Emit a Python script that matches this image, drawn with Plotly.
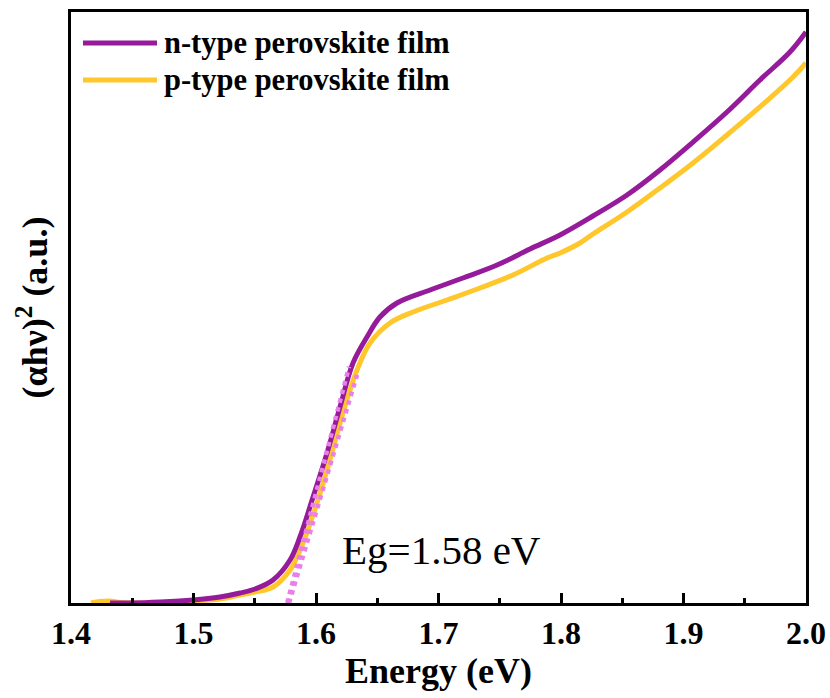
import plotly.graph_objects as go

# Tauc plot of the two perovskite films
energy_n = [1.4318, 1.4490, 1.4727, 1.4996, 1.5216, 1.5380, 1.5502, 1.5649, 1.5788,
            1.5869, 1.5976, 1.6090, 1.6196, 1.6302, 1.6416, 1.6522, 1.6661, 1.6931,
            1.7200, 1.7478, 1.7747, 1.7992, 1.8261, 1.8539, 1.8808, 1.9078, 1.9355,
            1.9624, 1.9869, 2.0000]
tauc_n = [0.000, 0.000, 0.0017, 0.0051, 0.0102, 0.0169, 0.0237, 0.0389, 0.0728,
          0.1117, 0.1794, 0.2538, 0.3316, 0.4061, 0.4501, 0.4839, 0.5076, 0.5296,
          0.5499, 0.5719, 0.5990, 0.6227, 0.6548, 0.6904, 0.7327, 0.7800, 0.8308,
          0.8849, 0.9323, 0.9662]

energy_p = [1.4163, 1.4237, 1.4318, 1.4400, 1.4522, 1.4727, 1.4996, 1.5216, 1.5380,
            1.5502, 1.5649, 1.5788, 1.5894, 1.6008, 1.6114, 1.6220, 1.6335, 1.6441,
            1.6604, 1.6792, 1.7069, 1.7339, 1.7608, 1.7886, 1.7992, 1.8155, 1.8261,
            1.8539, 1.8808, 1.9078, 1.9355, 1.9624, 1.9894, 2.0000]
tauc_p = [0.000, 0.0025, 0.0034, 0.0008, 0.000, 0.000, 0.0034, 0.0068, 0.0135,
          0.0186, 0.0271, 0.0558, 0.1015, 0.1692, 0.2420, 0.3215, 0.3942, 0.4399,
          0.4738, 0.4924, 0.5127, 0.5330, 0.5550, 0.5838, 0.5922, 0.6091, 0.6244,
          0.6616, 0.7022, 0.7445, 0.7919, 0.8393, 0.8900, 0.9137]

# linear extrapolations of the absorption edge
fit_n_x = [1.5765, 1.6270]
fit_n_y = [0.0, 0.400]
fit_p_x = [1.5780, 1.6335]
fit_p_y = [0.0, 0.386]

names = ["n-type perovskite film", "p-type perovskite film"]
purple = "#951B9B"
yellow = "#FFC72C"
violet = "#E97FE9"
font_family = "Liberation Serif, Times New Roman, DejaVu Serif, serif"

fig = go.Figure()
fig.add_trace(go.Scatter(x=energy_p, y=tauc_p, mode="lines", name=names[1],
                         line=dict(color=yellow, width=5, shape="spline", smoothing=1.0),
                         showlegend=False))
fig.add_trace(go.Scatter(x=energy_n, y=tauc_n, mode="lines", name=names[0],
                         line=dict(color=purple, width=5, shape="spline", smoothing=1.0),
                         showlegend=False))
fig.add_trace(go.Scatter(x=fit_n_x, y=fit_n_y, mode="lines",
                         line=dict(color=violet, width=4.5, dash="dot"), showlegend=False))
fig.add_trace(go.Scatter(x=fit_p_x, y=fit_p_y, mode="lines",
                         line=dict(color=violet, width=4.5, dash="dot"), showlegend=False))

# legend drawn as line samples plus labels
legend_rows = [(0.9475, purple, names[0]), (0.885, yellow, names[1])]
for yrow, col, label in legend_rows:
    fig.add_shape(type="line", xref="paper", yref="paper",
                  x0=0.0163, x1=0.117, y0=yrow, y1=yrow,
                  line=dict(color=col, width=5))
    fig.add_annotation(xref="paper", yref="paper", x=0.124, y=yrow,
                       text=f"<b>{label}</b>", showarrow=False,
                       xanchor="left", yanchor="middle",
                       font=dict(family=font_family, size=30.5, color="black"))

fig.add_annotation(x=1.6196, y=0.09, xref="x", yref="y", text="Eg=1.58 eV",
                   showarrow=False, xanchor="left", yanchor="middle",
                   font=dict(family=font_family, size=41, color="black"))

fig.update_layout(
    template="none",
    width=830, height=698,
    margin=dict(l=71, r=24, t=12, b=95),
    paper_bgcolor="white", plot_bgcolor="white",
    font=dict(family=font_family, color="black"),
    xaxis=dict(range=[1.4, 2.0], dtick=0.1, tick0=1.4, tickformat=".1f",
               automargin=False,
               ticks="inside", ticklen=10, tickwidth=2.5, tickcolor="black",
               minor=dict(ticks="inside", ticklen=5, tickwidth=2.5, dtick=0.05,
                          tickcolor="black"),
               showline=True, linewidth=3, linecolor="black", mirror=True,
               showgrid=False, zeroline=False,
               tickfont=dict(family=font_family, size=32, color="black", weight="bold"),
               ticklabelstandoff=0,
               title=dict(text="<b>Energy (eV)</b>", standoff=6,
                          font=dict(family=font_family, size=36, color="black"))),
    yaxis=dict(range=[0, 1], showticklabels=False, ticks="", automargin=False,
               showline=True, linewidth=3, linecolor="black", mirror=True,
               showgrid=False, zeroline=False,
               title=dict(text="<b>(αhν)<sup>2</sup> (a.u.)</b>", standoff=10,
                          font=dict(family=font_family, size=36, color="black"))),
)

fig.write_html("out.html")
